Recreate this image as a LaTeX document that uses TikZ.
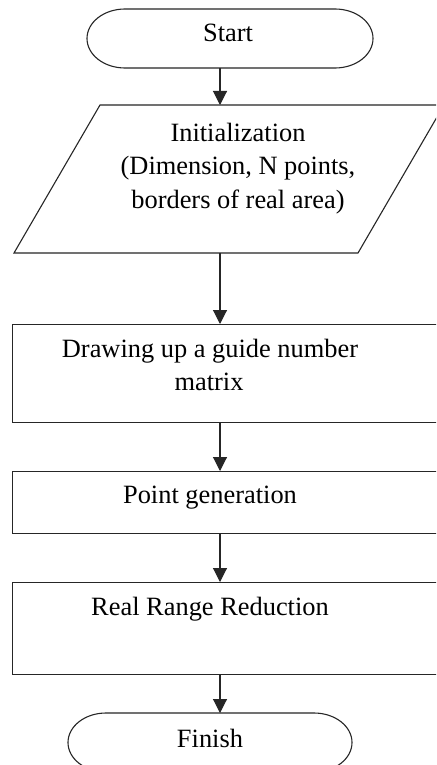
\documentclass[tikz,border=0pt]{standalone}
\usepackage{fontspec}
\setmainfont{Liberation Serif}
\usetikzlibrary{arrows.meta}
\begin{document}
\begin{tikzpicture}[x=1pt,y=-1pt,
  line/.style={line width=1.1pt, draw=black!85},
  arr/.style={line, -{Triangle[width=14pt,length=14pt]}},
  box/.style={line, rectangle, inner sep=0pt, minimum width=440pt, anchor=north west},
  holder/.style={inner sep=0pt, outer sep=0pt},
  txt/.style={anchor=base, inner sep=0pt, font=\fontsize{26.4}{33}\selectfont, text=black}]
\useasboundingbox (0,0) rectangle (436,765);
\clip (0,0) rectangle (436,765);
\fill[white] (0,0) rectangle (436,765);
\coordinate (ax) at (220,0);
% Start terminal
\node[holder, minimum width=286pt, minimum height=59pt] (start) at (230,38.5) {};
\draw[line] ([xshift=38pt]start.north west) -- ([xshift=-38pt]start.north east)
  arc[start angle=90, end angle=-90, x radius=38pt, y radius=29.5pt]
  -- ([xshift=38pt]start.south west)
  arc[start angle=270, end angle=90, x radius=38pt, y radius=29.5pt] -- cycle;
\node[txt] (tstart) at (228,42) {Start};
% Initialization parallelogram
\node[holder, minimum width=344pt, minimum height=148pt] (init) at (229,179) {};
\draw[line] ([xshift=-129pt]init.north) -- ([xshift=215pt]init.north)
  -- ([xshift=129pt]init.south) -- ([xshift=-215pt]init.south) -- cycle;
\node[txt] (init1) at (238,141) {Initialization};
\node[txt] (init2) at (238,174.5) {(Dimension, N points,};
\node[txt] (init3) at (238,208) {borders of real area)};
% Boxes
\node[box, minimum height=98pt] (r1) at (12,324) {};
\node[txt] (r1a) at (210,357) {Drawing up a guide number};
\node[txt] (r1b) at (209,390) {matrix};
\node[box, minimum height=62pt] (r2) at (12,471) {};
\node[txt] (r2a) at (210,503) {Point generation};
\node[box, minimum height=92pt] (r3) at (12,582) {};
\node[txt] (r3a) at (210,615) {Real Range Reduction};
% Finish terminal
\node[holder, minimum width=284pt, minimum height=59pt] (finish) at (210,742.5) {};
\draw[line] ([xshift=38pt]finish.north west) -- ([xshift=-38pt]finish.north east)
  arc[start angle=90, end angle=-90, x radius=38pt, y radius=29.5pt]
  -- ([xshift=38pt]finish.south west)
  arc[start angle=270, end angle=90, x radius=38pt, y radius=29.5pt] -- cycle;
\node[txt] (tfinish) at (210,747) {Finish};
% Arrows
\draw[arr] (start.south -| ax) -- (init.north -| ax);
\draw[arr] (init.south -| ax) -- (r1.north -| ax);
\draw[arr] (r1.south -| ax) -- (r2.north -| ax);
\draw[arr] (r2.south -| ax) -- (r3.north -| ax);
\draw[arr] (r3.south -| ax) -- (finish.north -| ax);
\end{tikzpicture}
\end{document}
